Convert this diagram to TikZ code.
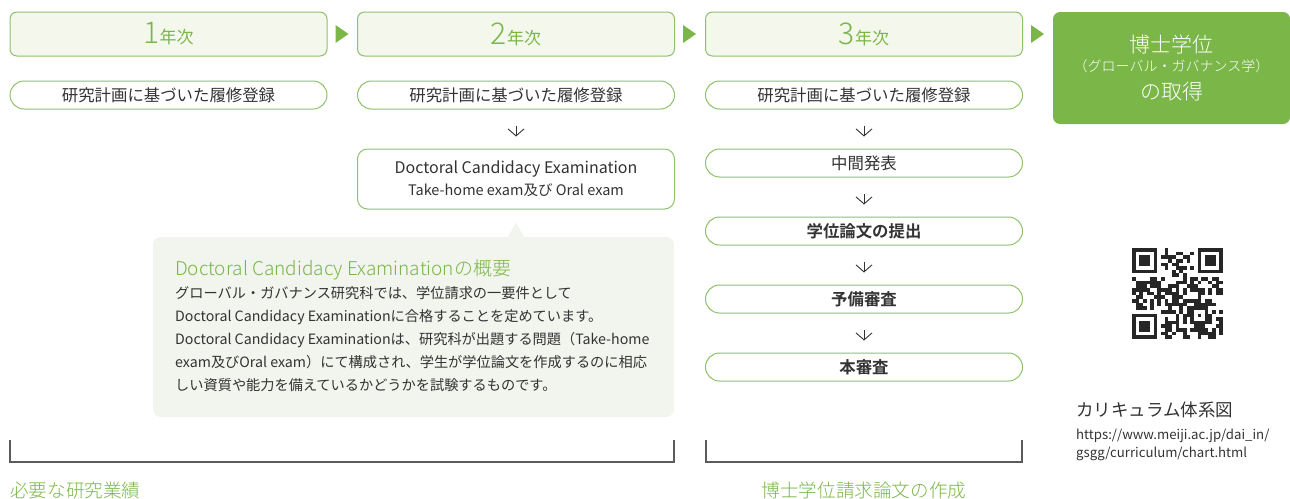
\documentclass[tikz,border=0pt]{standalone}
\usepackage{fontspec}
\setmainfont{Noto Sans CJK JP}[BoldFont={Noto Sans CJK JP Bold}]
\newfontfamily\lightfont{Noto Sans CJK JP Light}
\usetikzlibrary{positioning, arrows.meta, calc}
\definecolor{leaf}{HTML}{7AB648}
\definecolor{leafline}{HTML}{8DC26A}
\definecolor{paleleaf}{HTML}{F3F7EC}
\definecolor{callgray}{HTML}{F2F4EE}
\definecolor{ink}{HTML}{333333}
\tikzset{
    x=1pt, y=-1pt, % one unit is one pixel of the layout, y runs downwards
    yearbox/.style={draw=leafline, fill=paleleaf, line width=1pt, rounded corners=7pt,
        minimum width=317pt, minimum height=44pt, text=leaf, inner sep=0pt}, % year headers
    pill/.style={draw=leafline, fill=white, line width=1pt, rounded corners=14pt,
        minimum width=317pt, minimum height=28pt, text=ink, inner sep=0pt,
        font=\fontsize{16.4}{16.4}\selectfont}, % steps of the course
    exambox/.style={draw=leafline, fill=white, line width=1pt, rounded corners=10pt,
        minimum width=317pt, minimum height=60pt, text=ink, align=center, inner sep=0pt},
    goalbox/.style={fill=leaf, rounded corners=7pt, minimum width=237pt, minimum height=112pt,
        text=white, align=center, inner sep=0pt},
    downarrow/.style={-{Straight Barb[length=7pt, width=16pt]}, draw=ink, line width=0.9pt,
        shorten <=16pt, shorten >=12pt}, % the thin arrows between the steps
    bracket/.style={draw=ink!80, line width=1.2pt},
    greenlabel/.style={text=leaf, font=\fontsize{18.6}{18.6}\lightfont, inner sep=0pt},
}

\newcommand{\yearlabel}[1]{{\fontsize{30}{30}\lightfont #1}{\fontsize{17}{17}\selectfont 年次}}

\begin{document}
\begin{tikzpicture}
\useasboundingbox (0,0) rectangle (1290,498);

% year headers
\node[yearbox] (y1) at (168.5,34) {\yearlabel{1}};
\node[yearbox] (y2) at (516,34) {\yearlabel{2}};
\node[yearbox] (y3) at (864,34) {\yearlabel{3}};
\node[goalbox] (goal) at (1171.5,68) {%
  {\fontsize{21}{21}\lightfont 博士学位}\\[4pt]
  {\fontsize{14}{14}\lightfont （グローバル・ガバナンス学）}\\[8pt]
  {\fontsize{21}{21}\lightfont の取得}};

\foreach \a in {y1, y2, y3}
  \fill[leaf] ($(\a.east)+(8,-9)$) -- ++(13,9) -- ++(-13,9) -- cycle;

% first row
\node[pill] (r1a) at (168.5,95) {研究計画に基づいた履修登録};
\node[pill] (r1b) at (516,95) {研究計画に基づいた履修登録};
\node[pill] (r1c) at (864,95) {研究計画に基づいた履修登録};

% 2nd year
\node[exambox] (dce) at (516,179) {{\fontsize{16}{16}\selectfont Doctoral Candidacy Examination}\\[5pt]
  {\fontsize{14.5}{14.5}\selectfont Take-home exam及び Oral exam}};
\draw[downarrow] (r1b.south) -- (dce.north);

% 3rd year
\node[pill] (mid) at (864,163) {中間発表};
\node[pill, font=\fontsize{16.4}{16.4}\bfseries] (sub) at (864,231) {学位論文の提出};
\node[pill, font=\fontsize{16.4}{16.4}\bfseries] (pre) at (864,299) {予備審査};
\node[pill, font=\fontsize{16.4}{16.4}\bfseries] (fin) at (864,367) {本審査};
\foreach \a/\b in {r1c/mid, mid/sub, sub/pre, pre/fin}
  \draw[downarrow] (\a.south) -- (\b.north);

% callout about the examination
\fill[callgray] ($(dce.south)+(-9,29)$) -- ($(dce.south)+(0,13)$) -- ($(dce.south)+(9,29)$) -- cycle;
\node[fill=callgray, rounded corners=8pt, minimum width=521pt, minimum height=180pt] (callout) at (413.5,327) {};
\node[greenlabel, anchor=west, font=\fontsize{19}{19}\lightfont] (ctitle) at (175,270) {Doctoral Candidacy Examinationの概要};
\node[anchor=north west, text=ink, align=left, inner sep=0pt,
      font=\fontsize{14.2}{23}\selectfont] (cbody) at (175,286) {%
  グローバル・ガバナンス研究科では、学位請求の一要件として\\
  Doctoral Candidacy Examinationに合格することを定めています。\\
  Doctoral Candidacy Examinationは、研究科が出題する問題（Take-home\\
  exam及びOral exam）にて構成され、学生が学位論文を作成するのに相応\\
  しい資質や能力を備えているかどうかを試験するものです。};

% brackets under the columns
\draw[bracket] (10,440) |- (674,462) -- (674,440);
\draw[bracket] (706,440) |- (1022,462) -- (1022,440);
\node[greenlabel, anchor=west] (needs) at (10,490) {必要な研究業績};
\node[greenlabel] (thesis) at (864,490) {博士学位請求論文の作成};

% QR code
\begin{scope}[shift={(1132,248)}, fill=black!85]
  \def\m{3.64}
  \foreach \cx/\cy in {0/0, 18/0, 0/18} {
    \fill (\cx*\m,\cy*\m) rectangle ++(7*\m,7*\m);
    \fill[white] (\cx*\m+\m,\cy*\m+\m) rectangle ++(5*\m,5*\m);
    \fill (\cx*\m+2*\m,\cy*\m+2*\m) rectangle ++(3*\m,3*\m);
  }
  \fill (16*\m,16*\m) rectangle ++(5*\m,5*\m);
  \fill[white] (17*\m,17*\m) rectangle ++(3*\m,3*\m);
  \fill (18*\m,18*\m) rectangle ++(\m,\m);
  \pgfmathsetseed{11}
  \foreach \i in {0,...,24} {
    \foreach \j in {0,...,24} {
      \pgfmathtruncatemacro{\skipit}{((\i<8)&&(\j<8)) || ((\i>16)&&(\j<8)) || ((\i<8)&&(\j>16)) || ((\i>15)&&(\i<21)&&(\j>15)&&(\j<21))}
      \pgfmathtruncatemacro{\bit}{rnd<0.5}
      \ifnum\skipit=0 \ifnum\bit=1 \fill (\i*\m,\j*\m) rectangle ++(\m,\m); \fi\fi
    }
  }
\end{scope}
\node[anchor=west, text=ink, inner sep=0pt, font=\fontsize{17.5}{17.5}\selectfont] (chart) at (1076,410) {カリキュラム体系図};
\node[anchor=north west, text=ink, inner sep=0pt, align=left, font=\fontsize{13.2}{18}\selectfont] (url) at (1076,429) {https://www.meiji.ac.jp/dai\_in/\\gsgg/curriculum/chart.html};

\end{tikzpicture}
\end{document}
